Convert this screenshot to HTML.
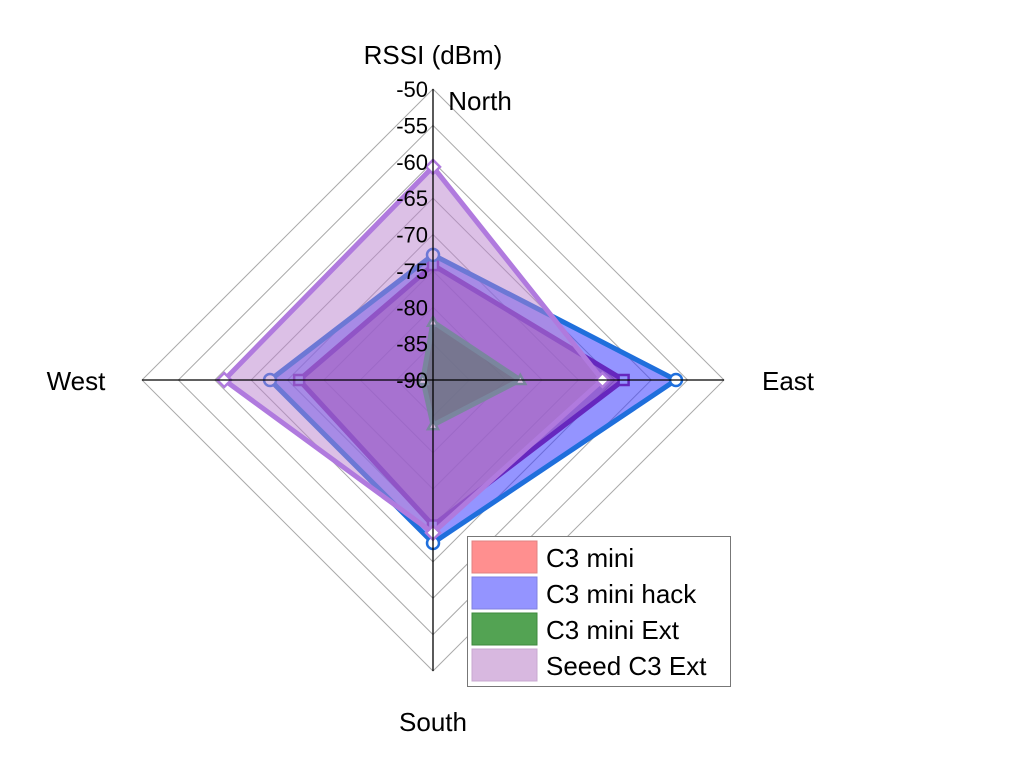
<!DOCTYPE html>
<html><head><meta charset="utf-8"><style>
html,body{margin:0;padding:0;background:#fff;}
svg{display:block;font-family:"Liberation Sans",sans-serif;}
</style></head><body>
<svg id="chart" width="1024" height="784" viewBox="0 0 1024 784" xmlns="http://www.w3.org/2000/svg">
<g id="grid"></g>
<g id="series"></g>
<g id="axes"></g>
<text x="433" y="64" font-size="26" text-anchor="middle">RSSI (dBm)</text>
<text x="480" y="110" font-size="26" text-anchor="middle">North</text>
<text x="788" y="390" font-size="26" text-anchor="middle">East</text>
<text x="433" y="731" font-size="26" text-anchor="middle">South</text>
<text x="76" y="390" font-size="26" text-anchor="middle">West</text>
<g id="legend">
<rect x="467.5" y="536.5" width="263" height="150" fill="#fff" stroke="#777"/>
</g>
</svg>
<script>
const categories = ["North","East","South","West"];
const seriesNames = ["C3 mini","C3 mini hack","C3 mini Ext","Seeed C3 Ext"];
const miniValues = [-74.2,-63.8,-70,-71.6];
const hackValues = [-72.8,-56.6,-67.6,-67.6];
const extValues = [-82,-78,-83.8,-88.6];
const seeedValues = [-60.7,-66.7,-69,-61.3];
const tickLabels = [-90,-85,-80,-75,-70,-65,-60,-55,-50];

const NS="http://www.w3.org/2000/svg";
const cx=433, cy=380, R=291, rMin=-90, rMax=-50;
function rScale(v){return (v-rMin)/(rMax-rMin)*R;}
function pt(i,v){const a=-Math.PI/2+i*2*Math.PI/categories.length;const r=rScale(v);return [cx+r*Math.cos(a),cy+r*Math.sin(a)];}
function mk(tag,attrs,parent){const e=document.createElementNS(NS,tag);for(const k in attrs)e.setAttribute(k,attrs[k]);parent.appendChild(e);return e;}

const grid=document.getElementById('grid');
tickLabels.forEach((t,ti)=>{
  if(t===rMin)return;
  const pts=categories.map((c,i)=>pt(i,t).join(',')).join(' ');
  const g=mk('polygon',{points:pts,fill:'none',stroke:'#aaa','stroke-width':1},grid);
  
  
});
const axes=document.getElementById('axes');
categories.forEach((c,i)=>{
  const p=pt(i,rMax);
  const l=mk('line',{x1:cx,y1:cy,x2:p[0],y2:p[1],stroke:'#000','stroke-width':1.3},axes);
  
  
});

const seriesVals=[miniValues,hackValues,extValues,seeedValues];
const fills=['rgba(255,40,60,0.5)','rgba(60,60,255,0.55)','rgba(20,110,40,0.75)','rgba(185,130,205,0.5)'];
const strokes=['#9a0f70','#1f6fdc','#3a8a6e','#b07ade'];
const markers=['square','circle','triangle','diamond'];
const sg=document.getElementById('series');
seriesVals.forEach((vals,si)=>{
  const g=mk('g',{},sg);
  
  
  const pts=vals.map((v,i)=>pt(i,v));
  const poly=mk('polygon',{points:pts.map(p=>p.join(',')).join(' '),fill:fills[si],stroke:strokes[si],'stroke-width':5,'stroke-linejoin':'miter'},g);
  
  
  pts.forEach((p,i)=>{
    let m;
    const st={fill:'#fff',stroke:strokes[si],'stroke-width':2.5};
    if(markers[si]==='square')m=mk('rect',Object.assign({x:p[0]-5,y:p[1]-5,width:10,height:10},st),g);
    else if(markers[si]==='circle')m=mk('circle',Object.assign({cx:p[0],cy:p[1],r:6},st),g);
    else if(markers[si]==='triangle')m=mk('polygon',Object.assign({points:`${p[0]},${p[1]-5} ${p[0]-5},${p[1]+4} ${p[0]+5},${p[1]+4}`},st),g);
    else m=mk('polygon',Object.assign({points:`${p[0]},${p[1]-7} ${p[0]+7},${p[1]} ${p[0]},${p[1]+7} ${p[0]-7},${p[1]}`},st),g);
    
    
  });
});

tickLabels.forEach(t=>{
  const y=cy-rScale(t);
  const tx=mk('text',{x:428,y:y+8,'font-size':22,'text-anchor':'end'},axes);
  tx.textContent=String(t);
  
  
});

const lg=document.getElementById('legend');
const lcol=['#ff8f8f','#9494ff','#53a353','#d8b8e0'];
const lstroke=['#e08080','#8080e0','#3d8a3d','#c8a8d0'];
seriesNames.forEach((n,i)=>{
  const y=541+i*36;
  const r=mk('rect',{x:472,y:y,width:65,height:32,fill:lcol[i],stroke:lstroke[i]},lg);
  
  
  const t=mk('text',{x:546,y:y+26,'font-size':26},lg);
  t.textContent=n;
  
  
});
</script>
</body></html>
